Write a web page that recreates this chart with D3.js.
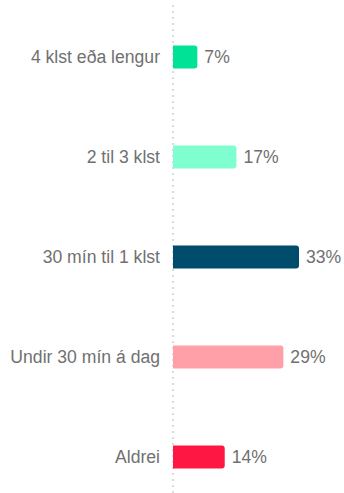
<!DOCTYPE html>
<html><head><meta charset="utf-8">
<script src="https://cdn.jsdelivr.net/npm/d3@7"></script>
<style>html,body{margin:0;padding:0;background:#fff;}svg{display:block;}</style>
</head><body>
<svg id="c" width="344" height="493"></svg>
<script>
const categories = ["4 klst eða lengur","2 til 3 klst","30 mín til 1 klst","Undir 30 mín á dag","Aldrei"];
const values = [7,17,33,29,14];
const colors = ["#00e396","#7fffd0","#004c6d","#ff9fa8","#ff1744"];

const svg = d3.select("#c");
const axisX = 173;
const x = d3.scaleLinear().domain([0,33]).range([170,299]);
const y = d3.scalePoint().domain(categories).range([57,457]);
const barH = 23;
const font = "Liberation Sans, Arial, sans-serif";

svg.append("line").attr("x1",axisX).attr("x2",axisX).attr("y1",5).attr("y2",493)
  .attr("stroke","#dcdcdc").attr("stroke-width",2).attr("stroke-dasharray","2,4");

const g = svg.selectAll("g.bar").data(categories).join("g").attr("class","bar");
g.append("path").attr("d",(d,i)=>{
  const x0=axisX, x1=x(values[i]), y0=y(d)-barH/2, r=3;
  return `M${x0},${y0}H${x1-r}Q${x1},${y0} ${x1},${y0+r}V${y0+barH-r}Q${x1},${y0+barH} ${x1-r},${y0+barH}H${x0}Z`;
}).attr("fill",(d,i)=>colors[i]);
g.append("text").attr("x",160).attr("y",d=>y(d)).attr("dy","0.35em").attr("text-anchor","end")
  .attr("font-family",font).attr("font-size",17.6).attr("fill","#707070")
  .text(d=>d);
g.append("text").attr("x",(d,i)=>x(values[i])+7).attr("y",d=>y(d)).attr("dy","0.35em")
  .attr("font-family",font).attr("font-size",17.6).attr("fill","#707070")
  .text((d,i)=>values[i]+"%");
</script>
</body></html>
